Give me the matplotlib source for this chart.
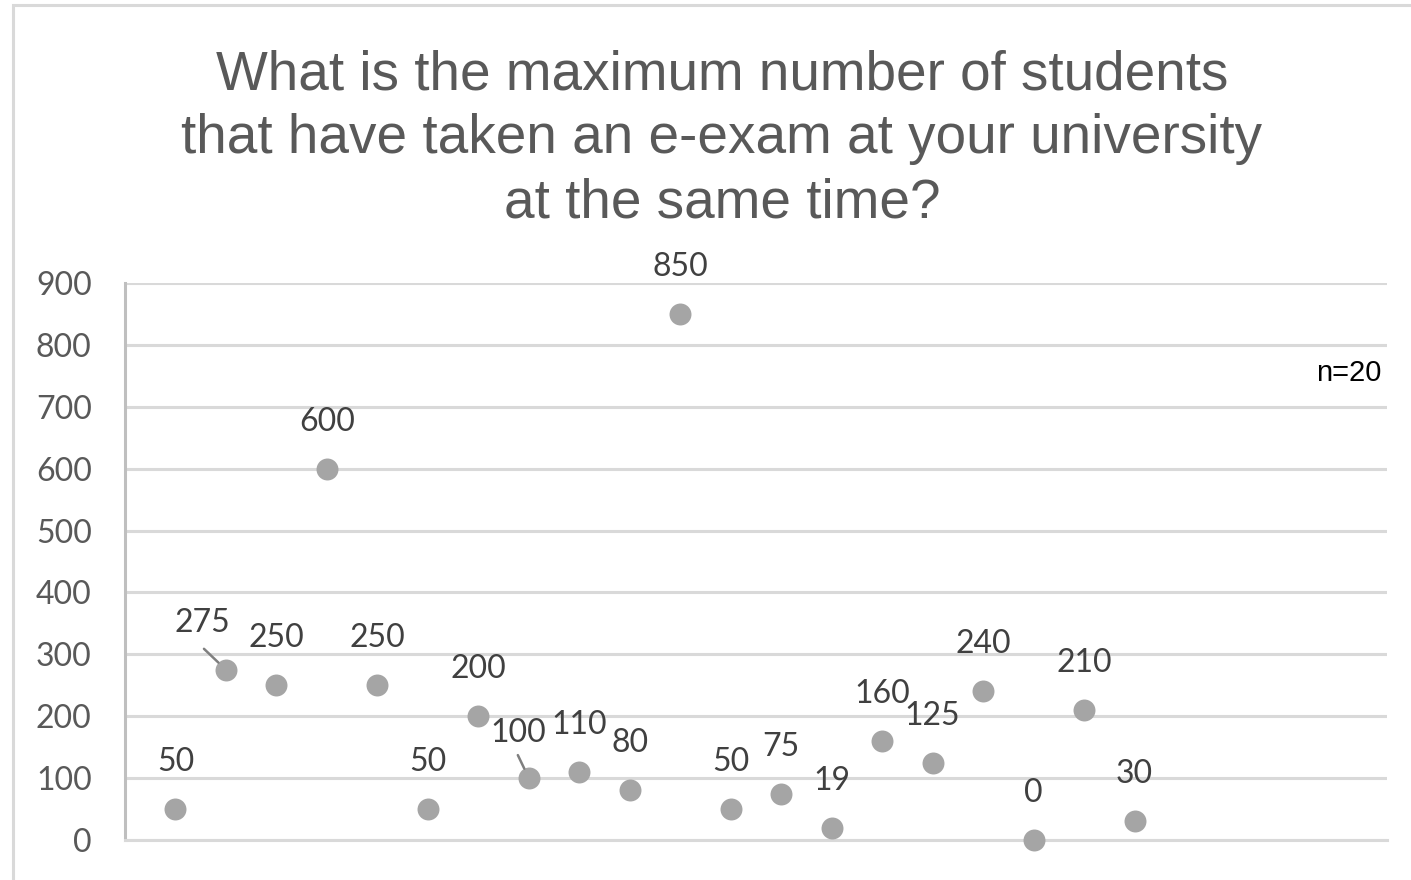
import matplotlib
matplotlib.use("Agg")
from matplotlib import pyplot as plt
from matplotlib.patches import Rectangle

# 每个受访学校一个点
respondent = list(range(1, 21))
max_students = [50, 275, 250, 600, 250, 50, 200, 100, 110, 80,
                850, 50, 75, 19, 160, 125, 240, 0, 210, 30]
y_ticks = [0, 100, 200, 300, 400, 500, 600, 700, 800, 900]

title = ("What is the maximum number of students\n"
         "that have taken an e-exam at your university\n"
         "at the same time?")

# 标签偏移（像素）及引导线起点，少数标签带引导线
label_offset = {2: (-24, 47), 8: (-11, 45)}
leader_start = {2: (-22, 21), 8: (-11, 23)}

fig = plt.figure(figsize=(14.11, 8.80), dpi=100)
ax = fig.add_axes([125 / 1411, 40 / 880, (1387 - 125) / 1411, (840 - 283) / 880])

# 外框
fig.patches.append(Rectangle((13 / 1411, -0.1), 1.2, 1.1 - 5 / 880,
                             transform=fig.transFigure, fill=False,
                             edgecolor="#D9D9D9", lw=2.2))

ax.scatter(respondent, max_students, s=250, color="#A5A5A5", zorder=3,
           linewidths=0, clip_on=False)

pt2px = 72 / 100
for x, v in zip(respondent, max_students):
    dx, dy = label_offset.get(x, (0, 47))
    ax.annotate(f"{v}", (x, v), xytext=(dx * pt2px, dy * pt2px),
                textcoords="offset points", ha="center", va="center",
                fontsize=23, color="#404040", family="Lato")
    if x in leader_start:
        sx, sy = leader_start[x]
        ax.annotate("", (x, v), xytext=(sx * pt2px, sy * pt2px),
                    textcoords="offset points",
                    arrowprops=dict(arrowstyle="-", color="#7F7F7F", lw=1.8,
                                    shrinkA=0, shrinkB=7.5))

ax.set_xlim(0, 25)
ax.set_ylim(0, 900)
ax.set_yticks(y_ticks)
ax.set_xticks([])
ax.tick_params(axis="y", length=0, pad=24, labelsize=23, labelcolor="#595959")
for lbl in ax.get_yticklabels():
    lbl.set_family("Lato")
ax.grid(axis="y", color="#D9D9D9", lw=2.2)
ax.set_axisbelow(True)
for side in ["top", "right"]:
    ax.spines[side].set_visible(False)
ax.spines["left"].set_color("#BFBFBF")
ax.spines["left"].set_linewidth(2.2)
ax.spines["bottom"].set_color("#D9D9D9")
ax.spines["bottom"].set_linewidth(2.2)

fig.text(722 / 1411, 1 - 139 / 880, title, ha="center", va="center",
         fontsize=39.5, color="#595959", family="Liberation Sans", linespacing=1.3)

fig.text(1381 / 1411, 1 - 373 / 880, "n=20", ha="right", va="center",
         fontsize=21, color="black", family="Liberation Sans")

plt.savefig("out.png", dpi=100)
